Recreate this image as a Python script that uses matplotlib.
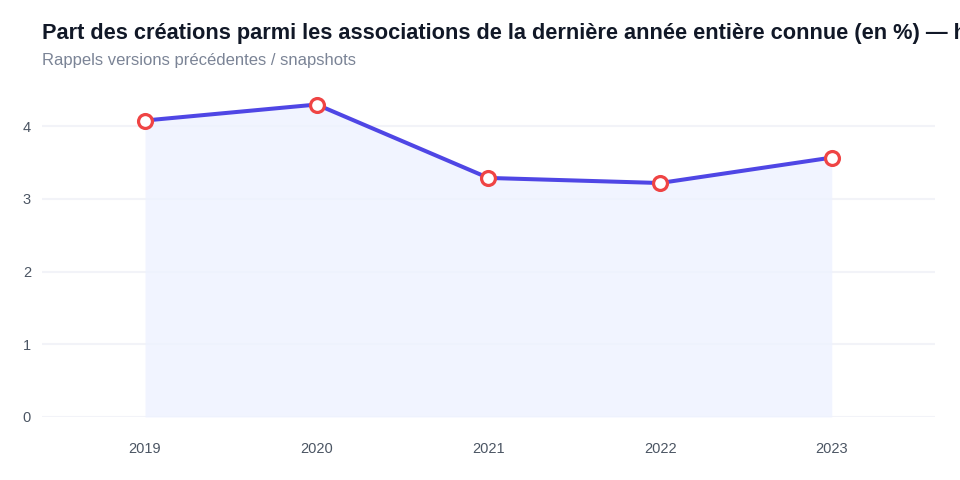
import matplotlib
matplotlib.use("Agg")
import matplotlib.pyplot as plt

plt.rcParams['font.family'] = ['Liberation Sans', 'DejaVu Sans']

years = ["2019", "2020", "2021", "2022", "2023"]
share = [4.08, 4.30, 3.29, 3.22, 3.57]

# the reference title runs past the right edge of the canvas
title = "Part des créations parmi les associations de la dernière année entière connue (en %) — historique"
subtitle = "Rappels versions précédentes / snapshots"

fig = plt.figure(figsize=(9.6, 4.8), dpi=100)
ax = fig.add_axes([0.04375, 0.13125, 0.93, 0.68125])

x = list(range(len(years)))
ax.fill_between(x, share, 0, color='#eef2ff', alpha=0.8, linewidth=0, zorder=1)
ax.plot(x, share, color='#4f46e5', linewidth=2.9, zorder=3,
        marker='o', markersize=10, markerfacecolor='white',
        markeredgecolor='#ef4444', markeredgewidth=2.3)

ax.set_xlim(-0.6, 4.6)
ax.set_ylim(0, 4.5)
ax.set_yticks([0, 1, 2, 3, 4])
ax.set_xticks(x)
ax.set_xticklabels(years)
ax.grid(axis='y', color='#f2f3f8', linewidth=1.5, zorder=0)
ax.set_axisbelow(True)
for s in ax.spines.values():
    s.set_visible(False)
ax.tick_params(length=0, colors='#4b5563', labelsize=10.5)
ax.tick_params(axis='x', pad=18)
ax.tick_params(axis='y', pad=8)

fig.text(42 / 960, 1 - 33 / 480, title, fontsize=15.7, fontweight='bold',
         color='#111827', va='center', ha='left')
fig.text(42 / 960, 1 - 60 / 480, subtitle, fontsize=12, color='#7b8496',
         va='center', ha='left')

fig.savefig("out.png", dpi=100)
